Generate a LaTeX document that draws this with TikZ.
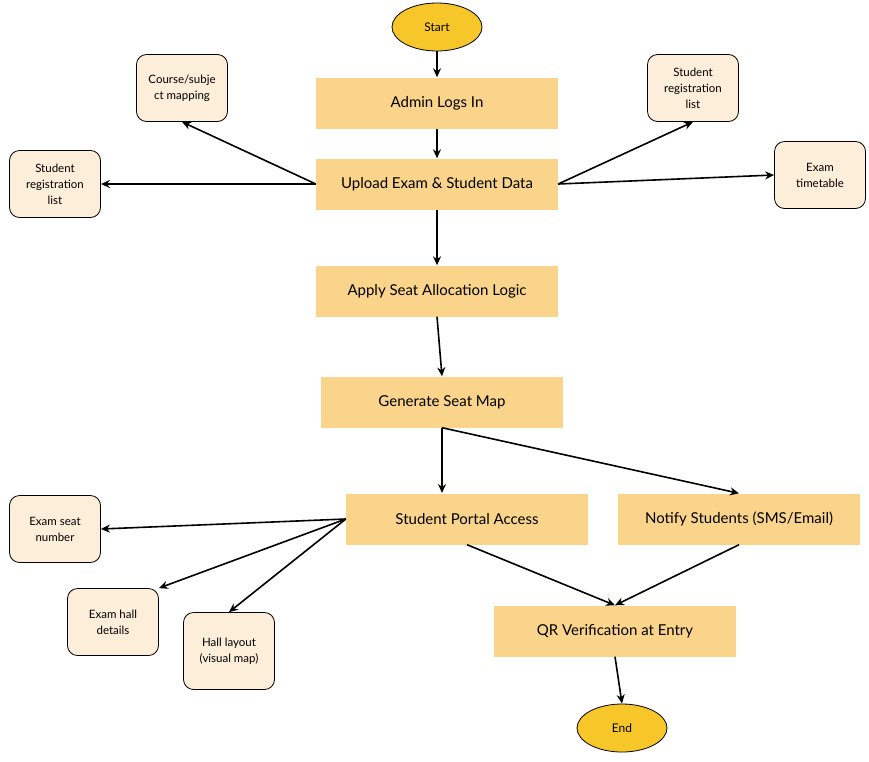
\documentclass[tikz,border=0pt]{standalone}
\usepackage{fontspec}
\setmainfont{Lato}
\usetikzlibrary{shapes.geometric,arrows.meta}
\definecolor{mainfill}{HTML}{F9D48A}
\definecolor{ovalfill}{HTML}{F7C72A}
\definecolor{smallfill}{HTML}{FDEEDA}
\tikzset{
 x=1pt,y=-1pt,
 mainbox/.style={fill=mainfill,draw=none,minimum width=242pt,minimum height=51pt,font=\fontsize{15}{17}\selectfont,inner sep=2pt},
 smallbox/.style={fill=smallfill,draw=black,line width=0.8pt,rounded corners=10pt,minimum width=91pt,minimum height=67pt,align=center,font=\fontsize{11.5}{16}\selectfont,inner sep=2pt},
 oval/.style={ellipse,fill=ovalfill,draw=black,line width=0.8pt,minimum width=90pt,minimum height=48pt,font=\fontsize{12}{14}\selectfont},
 conn/.style={-{Stealth[length=9pt,width=8pt]},line width=1.6pt}
}
\begin{document}
\begin{tikzpicture}
\useasboundingbox (0,0) rectangle (869,761);
\node[oval] (start) at (437,27) {Start};
\node[mainbox] (admin) at (437,103) {Admin Logs In};
\node[mainbox] (upload) at (437,184) {Upload Exam \& Student Data};
\node[mainbox] (apply) at (437,291) {Apply Seat Allocation Logic};
\node[mainbox] (gen) at (442,402) {Generate Seat Map};
\node[mainbox] (portal) at (467,519) {Student Portal Access};
\node[mainbox] (notify) at (739,519) {Notify Students (SMS/Email)};
\node[mainbox] (qr) at (615,631) {QR Verification at Entry};
\node[oval] (end) at (622,728) {End};
\node[smallbox] (course) at (182,88) {Course/subje\\ct mapping};
\node[smallbox] (regl) at (55,184) {Student\\registration\\list};
\node[smallbox] (regr) at (693,88) {Student\\registration\\list};
\node[smallbox] (tt) at (820,175) {Exam\\timetable};
\node[smallbox] (seat) at (55,529) {Exam seat\\number};
\node[smallbox] (hall) at (113,622) {Exam hall\\details};
\node[smallbox,minimum height=77pt] (layout) at (229,651) {Hall layout\\(visual map)};
\draw[conn] (start) -- (admin);
\draw[conn] (admin) -- (upload);
\draw[conn] (upload) -- (apply);
\draw[conn] (apply.south) -- (gen.north);
\draw[conn] (upload.west) -- (course.south);
\draw[conn] (upload.west) -- (regl.east);
\draw[conn] (upload.east) -- (regr.south);
\draw[conn] (upload.east) -- (tt.west);
\draw[conn] (gen.south) -- (442,493);
\draw[conn] (gen.south) -- (notify.north);
\draw[conn] (portal.west) -- (seat.east);
\draw[conn] (portal.west) -- (hall.north east);
\draw[conn] (portal.west) -- (layout.north);
\draw[conn] (portal.south) -- (qr.north);
\draw[conn] (notify.south) -- (qr.north);
\draw[conn] (qr.south) -- (end.north);
\end{tikzpicture}
\end{document}
